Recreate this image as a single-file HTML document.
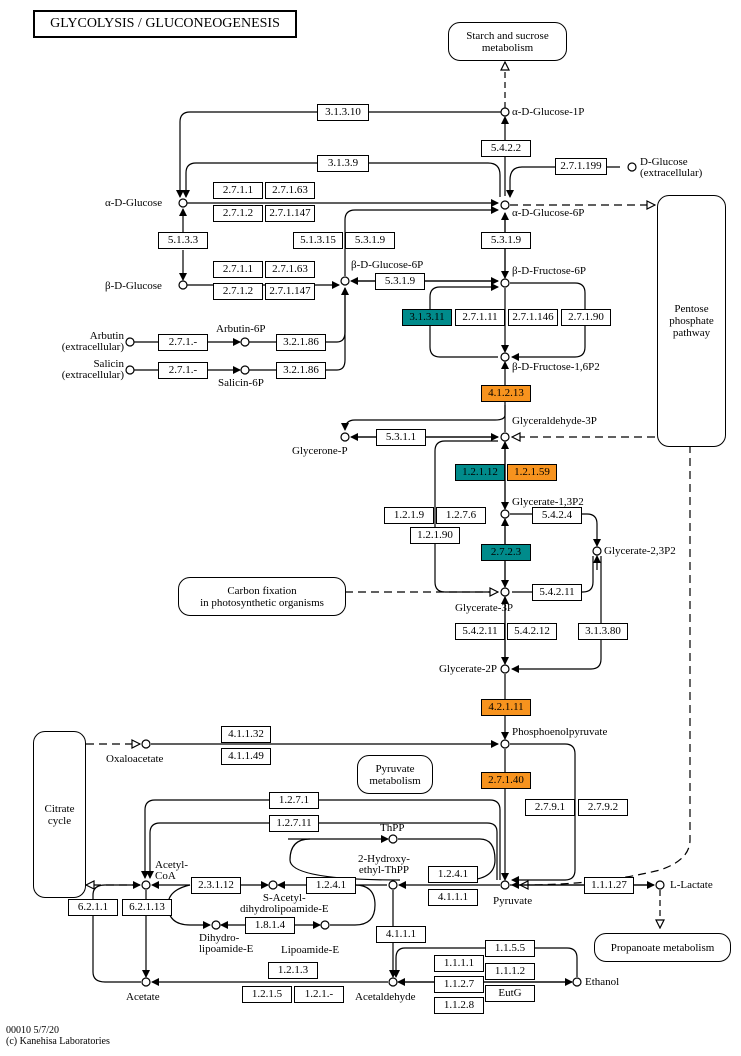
<!DOCTYPE html>
<html><head><meta charset="utf-8"><style>
body{margin:0;background:#fff;}
#c{position:relative;width:741px;height:1056px;overflow:hidden;font-family:"Liberation Serif",serif;font-size:11px;color:#000;}
.e{position:absolute;width:48px;height:15px;border:1px solid #000;background:#fff;text-align:center;line-height:15px;font-size:11px;box-sizing:content-box;}
.w{width:50px}
.t{background:#008b8b}
.o{background:#f7931e}
.l{position:absolute;white-space:nowrap;line-height:11px;}
.r{text-align:right}
.m{position:absolute;border:1px solid #000;border-radius:12px;background:#fff;text-align:center;line-height:12px;display:flex;align-items:center;justify-content:center;}
svg{position:absolute;left:0;top:0}
</style></head><body><div id="c">
<svg width="741" height="1056" fill="none" stroke="#000" stroke-width="1.2">
<defs>
<marker id="a" markerWidth="8" markerHeight="8" refX="7" refY="4" orient="auto" markerUnits="userSpaceOnUse"><path d="M0,0L8,4L0,8z" fill="#000" stroke="none"/></marker>
<marker id="h" markerWidth="10" markerHeight="10" refX="9" refY="5" orient="auto" markerUnits="userSpaceOnUse"><path d="M1,1L9,5L1,9z" fill="#fff" stroke="#000"/></marker>
</defs>
<path d="M505,108V62" stroke-dasharray="6,4" marker-end="url(#h)"/>
<path d="M505,196V117" marker-end="url(#a)"/>
<path d="M505,213V278" marker-end="url(#a)"/>
<path d="M505,278V213" marker-end="url(#a)"/>
<path d="M505,288V352" marker-end="url(#a)"/>
<path d="M505,432V362" marker-end="url(#a)"/>
<path d="M505,442V509" marker-end="url(#a)"/>
<path d="M505,509V442" marker-end="url(#a)"/>
<path d="M505,519V587" marker-end="url(#a)"/>
<path d="M505,587V519" marker-end="url(#a)"/>
<path d="M505,597V664" marker-end="url(#a)"/>
<path d="M505,664V597" marker-end="url(#a)"/>
<path d="M505,674V739" marker-end="url(#a)"/>
<path d="M505,749V880" marker-end="url(#a)"/>
<path d="M501,112H190Q180,112 180,122V197" marker-end="url(#a)"/>
<path d="M500,197V175Q500,163 488,163H196Q186,163 186,173V197" marker-end="url(#a)"/>
<path d="M187,203H498" marker-end="url(#a)"/>
<path d="M620,167H522Q510,167 510,180V197" marker-end="url(#a)"/>
<path d="M345,276V220Q345,210 355,210H498" marker-end="url(#a)"/>
<path d="M510,205H655" stroke-dasharray="8,5" marker-end="url(#h)"/>
<path d="M183,232V209" marker-end="url(#a)"/>
<path d="M183,250V280" marker-end="url(#a)"/>
<path d="M187,285H339" marker-end="url(#a)"/>
<path d="M498,281H351" marker-end="url(#a)"/>
<path d="M352,281H498" marker-end="url(#a)"/>
<path d="M134,342H240" marker-end="url(#a)"/>
<path d="M134,370H240" marker-end="url(#a)"/>
<path d="M249,342H337Q345,342 345,332V288" marker-end="url(#a)"/>
<path d="M249,370H337Q345,370 345,360V288"/>
<path d="M498,357H440Q430,357 430,347V297Q430,287 440,287H498" marker-end="url(#a)"/>
<path d="M510,283H575Q585,283 585,293V347Q585,357 575,357H512" marker-end="url(#a)"/>
<path d="M498,437H351" marker-end="url(#a)"/>
<path d="M352,437H498" marker-end="url(#a)"/>
<path d="M505,405V415Q505,420 495,420H355Q345,420 345,430" marker-end="url(#a)"/>
<path d="M655,437H512" stroke-dasharray="8,5" marker-end="url(#h)"/>
<path d="M498,592H445Q435,592 435,582V451Q435,441 445,441H498" />
<path d="M345,592H498" stroke-dasharray="8,5" marker-end="url(#h)"/>
<path d="M510,514H587Q597,514 597,524V546" marker-end="url(#a)"/>
<path d="M593,556V582Q593,592 583,592H512" />
<path d="M597,570V556" marker-end="url(#a)"/>
<path d="M601,556V659Q601,669 591,669H512" marker-end="url(#a)"/>
<path d="M690,445V840Q690,860 660,870Q600,885 520,885" stroke-dasharray="8,5" marker-end="url(#h)"/>
<path d="M86,744H140" stroke-dasharray="8,5" marker-end="url(#h)"/>
<path d="M151,744H498" marker-end="url(#a)"/>
<path d="M510,744H565Q575,744 575,754V870Q575,880 565,880H512" marker-end="url(#a)"/>
<path d="M500,880V810Q500,800 490,800H155Q145,800 145,810V878" marker-end="url(#a)"/>
<path d="M497,880V832Q497,823 487,823H160Q150,823 150,833V878" marker-end="url(#a)"/>
<path d="M500,885H399" marker-end="url(#a)"/>
<path d="M510,885H654" marker-end="url(#a)"/>
<path d="M654,885H512" marker-end="url(#a)"/>
<path d="M660,890V928" stroke-dasharray="6,4" marker-end="url(#h)"/>
<path d="M387,885H278" marker-end="url(#a)"/>
<path d="M140,885H86" stroke-dasharray="8,5" marker-end="url(#h)"/>
<path d="M241,885H268" marker-end="url(#a)"/>
<path d="M190,885H152" marker-end="url(#a)"/>
<path d="M190,885Q168,890 168,905Q168,925 190,925H210" marker-end="url(#a)"/>
<path d="M245,925H221" marker-end="url(#a)"/>
<path d="M294,925H320" marker-end="url(#a)"/>
<path d="M330,925H355Q375,925 375,905Q375,885 355,885"/>
<path d="M288,839H388" marker-end="url(#a)"/>
<path d="M398,839H480Q495,839 495,860Q495,878 470,880"/>
<path d="M400,880Q290,880 290,860Q290,839 310,839"/>
<path d="M146,890V977" marker-end="url(#a)"/>
<path d="M141,982H105Q93,982 93,972V895Q93,885 105,885H140" marker-end="url(#a)"/>
<path d="M388,982H152" marker-end="url(#a)"/>
<path d="M393,890V977" marker-end="url(#a)"/>
<path d="M572,982H398" marker-end="url(#a)"/>
<path d="M399,982H572" marker-end="url(#a)"/>
<path d="M577,977V958Q577,948 567,948H405Q396,948 396,958V977" marker-end="url(#a)"/>
<g fill="#fff" stroke-width="1.2">
<circle cx="505" cy="112" r="4"/><circle cx="505" cy="205" r="4"/><circle cx="505" cy="283" r="4"/><circle cx="505" cy="357" r="4"/><circle cx="505" cy="437" r="4"/><circle cx="505" cy="514" r="4"/><circle cx="505" cy="592" r="4"/><circle cx="505" cy="669" r="4"/><circle cx="505" cy="744" r="4"/><circle cx="505" cy="885" r="4"/>
<circle cx="183" cy="203" r="4"/><circle cx="183" cy="285" r="4"/><circle cx="345" cy="281" r="4"/><circle cx="130" cy="342" r="4"/><circle cx="245" cy="342" r="4"/><circle cx="130" cy="370" r="4"/><circle cx="245" cy="370" r="4"/><circle cx="632" cy="167" r="4"/><circle cx="345" cy="437" r="4"/><circle cx="597" cy="551" r="4"/><circle cx="146" cy="744" r="4"/><circle cx="146" cy="885" r="4"/><circle cx="273" cy="885" r="4"/><circle cx="216" cy="925" r="4"/><circle cx="325" cy="925" r="4"/><circle cx="393" cy="839" r="4"/><circle cx="393" cy="885" r="4"/><circle cx="146" cy="982" r="4"/><circle cx="393" cy="982" r="4"/><circle cx="577" cy="982" r="4"/><circle cx="660" cy="885" r="4"/>
</g>
</svg>
<div class="m" style="left:33px;top:10px;width:260px;height:24px;border-radius:0;border-width:2px;justify-content:center;font-size:14px">GLYCOLYSIS / GLUCONEOGENESIS</div>
<div class="m" style="left:448px;top:22px;width:117px;height:37px">Starch and sucrose<br>metabolism</div>
<div class="m" style="left:657px;top:195px;width:67px;height:250px">Pentose<br>phosphate<br>pathway</div>
<div class="m" style="left:178px;top:577px;width:166px;height:37px">Carbon fixation<br>in photosynthetic organisms</div>
<div class="m" style="left:33px;top:731px;width:51px;height:165px">Citrate<br>cycle</div>
<div class="m" style="left:357px;top:755px;width:74px;height:37px">Pyruvate<br>metabolism</div>
<div class="m" style="left:594px;top:933px;width:135px;height:27px">Propanoate metabolism</div>
<div class="e w" style="left:317px;top:104px">3.1.3.10</div>
<div class="e" style="left:481px;top:140px">5.4.2.2</div>
<div class="e w" style="left:317px;top:155px">3.1.3.9</div>
<div class="e w" style="left:555px;top:158px">2.7.1.199</div>
<div class="e" style="left:213px;top:182px">2.7.1.1</div><div class="e" style="left:265px;top:182px">2.7.1.63</div>
<div class="e" style="left:213px;top:205px">2.7.1.2</div><div class="e" style="left:265px;top:205px">2.7.1.147</div>
<div class="e" style="left:158px;top:232px">5.1.3.3</div>
<div class="e" style="left:293px;top:232px">5.1.3.15</div><div class="e" style="left:345px;top:232px">5.3.1.9</div>
<div class="e" style="left:481px;top:232px">5.3.1.9</div>
<div class="e" style="left:213px;top:261px">2.7.1.1</div><div class="e" style="left:265px;top:261px">2.7.1.63</div>
<div class="e" style="left:213px;top:283px">2.7.1.2</div><div class="e" style="left:265px;top:283px">2.7.1.147</div>
<div class="e" style="left:375px;top:273px">5.3.1.9</div>
<div class="e t" style="left:402px;top:309px">3.1.3.11</div><div class="e" style="left:455px;top:309px">2.7.1.11</div><div class="e" style="left:508px;top:309px">2.7.1.146</div><div class="e" style="left:561px;top:309px">2.7.1.90</div>
<div class="e" style="left:158px;top:334px">2.7.1.-</div><div class="e" style="left:276px;top:334px">3.2.1.86</div>
<div class="e" style="left:158px;top:362px">2.7.1.-</div><div class="e" style="left:276px;top:362px">3.2.1.86</div>
<div class="e o" style="left:481px;top:385px">4.1.2.13</div>
<div class="e" style="left:376px;top:429px">5.3.1.1</div>
<div class="e t" style="left:455px;top:464px">1.2.1.12</div><div class="e o" style="left:507px;top:464px">1.2.1.59</div>
<div class="e" style="left:384px;top:507px">1.2.1.9</div><div class="e" style="left:436px;top:507px">1.2.7.6</div>
<div class="e" style="left:410px;top:527px">1.2.1.90</div>
<div class="e" style="left:532px;top:507px">5.4.2.4</div>
<div class="e t" style="left:481px;top:544px">2.7.2.3</div>
<div class="e" style="left:532px;top:584px">5.4.2.11</div>
<div class="e" style="left:455px;top:623px">5.4.2.11</div><div class="e" style="left:507px;top:623px">5.4.2.12</div>
<div class="e" style="left:578px;top:623px">3.1.3.80</div>
<div class="e o" style="left:481px;top:699px">4.2.1.11</div>
<div class="e" style="left:221px;top:726px">4.1.1.32</div><div class="e" style="left:221px;top:748px">4.1.1.49</div>
<div class="e o" style="left:481px;top:772px">2.7.1.40</div>
<div class="e" style="left:525px;top:799px">2.7.9.1</div><div class="e" style="left:578px;top:799px">2.7.9.2</div>
<div class="e" style="left:269px;top:792px">1.2.7.1</div><div class="e" style="left:269px;top:815px">1.2.7.11</div>
<div class="e" style="left:428px;top:866px">1.2.4.1</div><div class="e" style="left:428px;top:889px">4.1.1.1</div>
<div class="e" style="left:191px;top:877px">2.3.1.12</div>
<div class="e" style="left:306px;top:877px">1.2.4.1</div>
<div class="e" style="left:245px;top:917px">1.8.1.4</div>
<div class="e" style="left:68px;top:899px">6.2.1.1</div><div class="e" style="left:122px;top:899px">6.2.1.13</div>
<div class="e" style="left:376px;top:926px">4.1.1.1</div>
<div class="e" style="left:268px;top:962px">1.2.1.3</div>
<div class="e" style="left:242px;top:986px">1.2.1.5</div><div class="e" style="left:294px;top:986px">1.2.1.-</div>
<div class="e" style="left:485px;top:940px">1.1.5.5</div>
<div class="e" style="left:434px;top:955px">1.1.1.1</div><div class="e" style="left:485px;top:963px">1.1.1.2</div>
<div class="e" style="left:434px;top:976px">1.1.2.7</div><div class="e" style="left:485px;top:985px">EutG</div>
<div class="e" style="left:434px;top:997px">1.1.2.8</div>
<div class="e" style="left:584px;top:877px">1.1.1.27</div>
<div class="l" style="left:512px;top:107px">α-D-Glucose-1P</div>
<div class="l" style="left:512px;top:208px">α-D-Glucose-6P</div>
<div class="l" style="left:512px;top:266px">β-D-Fructose-6P</div>
<div class="l" style="left:512px;top:362px">β-D-Fructose-1,6P2</div>
<div class="l" style="left:512px;top:416px">Glyceraldehyde-3P</div>
<div class="l" style="left:512px;top:497px">Glycerate-1,3P2</div>
<div class="l" style="left:455px;top:603px">Glycerate-3P</div>
<div class="l r" style="right:244px;top:664px">Glycerate-2P</div>
<div class="l" style="left:512px;top:727px">Phosphoenolpyruvate</div>
<div class="l" style="left:493px;top:896px">Pyruvate</div>
<div class="l" style="left:105px;top:198px">α-D-Glucose</div>
<div class="l" style="left:105px;top:281px">β-D-Glucose</div>
<div class="l" style="left:351px;top:260px">β-D-Glucose-6P</div>
<div class="l r" style="right:617px;top:331px">Arbutin<br>(extracellular)</div>
<div class="l r" style="right:617px;top:359px">Salicin<br>(extracellular)</div>
<div class="l" style="left:216px;top:324px">Arbutin-6P</div>
<div class="l" style="left:218px;top:378px">Salicin-6P</div>
<div class="l" style="left:640px;top:157px">D-Glucose<br>(extracellular)</div>
<div class="l" style="left:292px;top:446px">Glycerone-P</div>
<div class="l" style="left:604px;top:546px">Glycerate-2,3P2</div>
<div class="l" style="left:106px;top:754px">Oxaloacetate</div>
<div class="l" style="left:155px;top:860px">Acetyl-<br>CoA</div>
<div class="l" style="left:240px;top:893px;text-align:center">S-Acetyl-<br>dihydrolipoamide-E</div>
<div class="l" style="left:199px;top:933px">Dihydro-<br>lipoamide-E</div>
<div class="l" style="left:281px;top:945px">Lipoamide-E</div>
<div class="l" style="left:380px;top:823px">ThPP</div>
<div class="l" style="left:358px;top:854px;text-align:center">2-Hydroxy-<br>ethyl-ThPP</div>
<div class="l" style="left:126px;top:992px">Acetate</div>
<div class="l" style="left:355px;top:992px">Acetaldehyde</div>
<div class="l" style="left:585px;top:977px">Ethanol</div>
<div class="l" style="left:670px;top:880px">L-Lactate</div>
<div class="l" style="left:6px;top:1025px;font-size:10px">00010 5/7/20<br>(c) Kanehisa Laboratories</div>
</div></body></html>
